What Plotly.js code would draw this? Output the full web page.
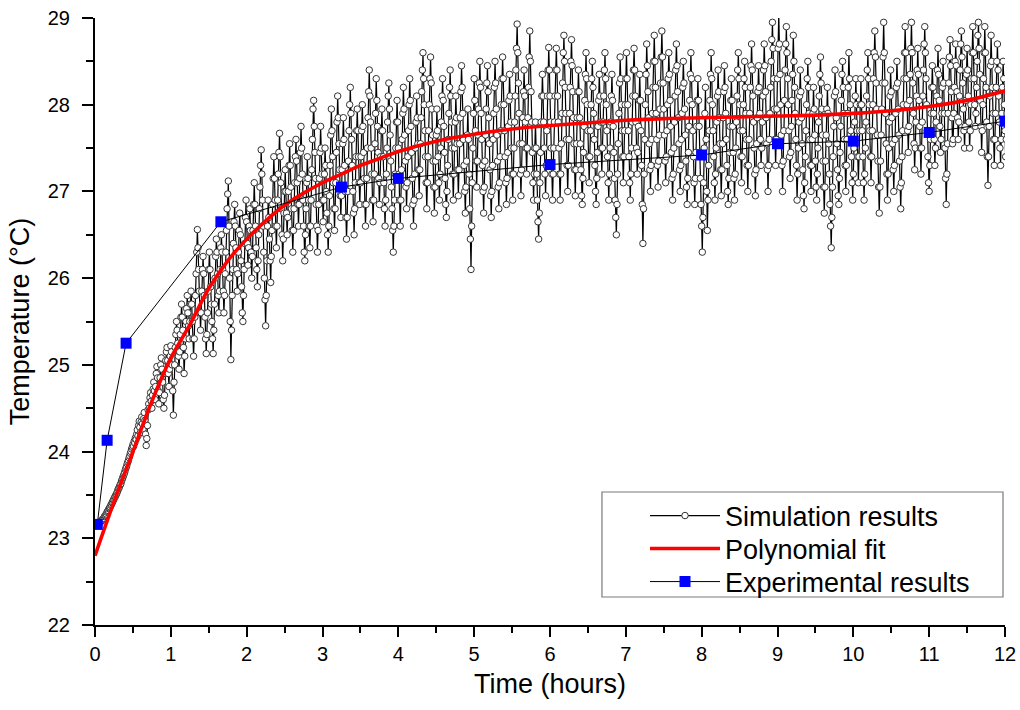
<!DOCTYPE html>
<html>
<head>
<meta charset="utf-8">
<script src="https://cdn.plot.ly/plotly-3.0.1.min.js"></script>
<style>html,body{margin:0;padding:0;background:#fff;}#chart{width:1020px;height:710px;}</style>
</head>
<body>
<div id="chart"></div>
<script>
// Simulation results: one sample every 30 s starting at 0.05 h (four lines of 30 per hour)
var simStart = 0.05;
var simStepHours = 1 / 120;
var simTemp = [
 23.17,23.18,23.18,23.19,23.2,23.21,23.22,23.22,23.23,23.25,23.26,23.27,23.28,23.3,23.31,23.32,23.34,23.35,23.36,23.38,23.39,23.41,23.42,23.44,23.45,23.47,23.48,23.5,23.51,23.53,
 23.55,23.57,23.58,23.6,23.62,23.63,23.66,23.68,23.7,23.72,23.74,23.76,23.79,23.81,23.83,23.86,23.88,23.9,23.93,23.95,23.98,24.0,24.03,24.05,24.08,24.06,24.12,24.1,24.16,24.14,
 24.2,24.25,24.18,24.3,24.35,24.28,24.22,24.34,24.4,24.32,24.26,24.38,24.45,24.36,24.2,24.07,24.15,24.3,24.48,24.55,24.5,24.62,24.68,24.58,24.5,24.65,24.72,24.8,24.7,24.6,
 24.75,24.9,24.98,24.85,24.7,24.55,24.68,24.85,25.0,25.08,24.95,24.8,24.6,24.5,24.65,24.9,25.05,25.15,25.2,25.05,24.9,24.75,24.95,25.1,25.22,25.15,25.0,24.7,24.42,24.8,

 25.0,25.2,25.35,25.5,25.4,25.25,25.1,24.95,25.15,25.35,25.55,25.7,25.55,25.4,25.2,24.9,25.1,25.3,25.5,25.65,25.8,25.6,25.45,25.3,25.5,25.7,25.85,25.7,25.5,25.3,
 25.1,25.3,25.55,25.8,26.05,26.3,26.56,26.35,26.1,25.85,25.6,25.4,25.6,25.85,26.1,26.25,26.05,25.8,25.55,25.3,25.13,25.35,25.6,25.85,26.1,26.3,26.1,25.9,25.7,25.5,
 25.3,25.13,25.4,25.7,26.0,26.25,26.45,26.3,26.05,25.8,25.6,25.85,26.1,26.35,26.5,26.3,26.1,25.85,25.6,25.8,26.05,26.3,26.55,26.8,26.97,27.12,26.6,26.0,25.5,25.06,
 25.4,25.8,26.1,26.4,26.65,26.85,26.6,26.35,26.1,25.85,26.05,26.3,26.55,26.75,26.5,26.2,25.9,25.6,25.5,25.8,26.1,26.4,26.7,26.9,26.65,26.4,26.15,26.35,26.6,26.8,

 26.55,26.3,26.0,26.25,26.55,26.85,27.1,26.85,26.6,26.35,26.1,25.9,26.2,26.5,26.8,27.05,27.3,27.48,27.2,26.9,26.6,26.3,26.0,25.75,25.45,25.8,26.2,26.6,26.9,26.7,
 26.45,26.2,25.95,26.25,26.55,26.85,27.15,27.4,27.15,26.9,26.6,26.35,26.6,26.9,27.2,27.45,27.67,27.4,27.1,26.8,26.5,26.2,26.45,26.75,27.0,27.25,27.0,26.75,26.5,26.7,
 27.0,27.3,27.55,27.3,27.05,26.8,26.55,26.3,26.55,26.8,27.1,27.4,27.6,27.35,27.1,26.85,26.6,26.85,27.15,27.45,27.75,27.5,27.2,26.9,26.6,26.3,26.2,26.5,26.8,27.1,
 27.4,27.15,26.9,26.6,26.35,26.6,26.9,27.25,27.6,27.95,28.05,27.75,27.45,27.15,26.85,26.6,26.3,26.55,26.85,27.15,27.45,27.75,27.5,27.2,26.9,26.65,26.9,27.2,27.5,27.3,

 27.0,26.75,26.5,26.3,26.6,26.95,27.3,27.65,27.95,27.7,27.4,27.1,26.8,26.55,26.8,27.1,27.45,27.8,28.1,27.85,27.55,27.25,26.95,26.7,26.95,27.25,27.55,27.85,27.6,27.3,
 27.0,26.7,26.45,26.7,27.0,27.35,27.7,28.0,28.2,27.9,27.6,27.3,27.0,26.75,26.5,26.8,27.1,27.4,27.7,27.95,27.7,27.4,27.1,26.85,27.1,27.4,27.7,28.0,27.75,27.45,
 27.15,26.85,26.6,26.85,27.15,27.5,27.85,28.15,28.4,28.1,27.8,27.5,27.2,26.9,26.65,26.9,27.2,27.55,27.9,28.3,28.05,27.75,27.45,27.15,26.85,27.1,27.4,27.7,27.95,27.7,
 27.4,27.1,26.8,26.6,26.9,27.2,27.5,27.8,28.1,28.25,27.95,27.65,27.35,27.05,26.8,26.55,26.3,26.6,26.9,27.2,27.5,27.8,28.05,27.8,27.5,27.2,26.9,26.6,26.9,27.25,

 27.6,27.9,28.2,27.95,27.65,27.35,27.05,26.8,27.1,27.4,27.7,28.0,28.3,28.05,27.75,27.45,27.15,26.85,26.6,26.9,27.2,27.5,27.8,28.1,27.85,27.55,27.25,26.95,27.25,27.55,
 27.85,28.15,28.4,28.6,28.3,28.0,27.7,27.4,27.1,26.8,27.1,27.4,27.7,28.0,28.3,28.55,28.25,27.95,27.65,27.35,27.05,26.75,27.05,27.35,27.65,27.95,27.7,27.4,27.1,26.9,
 27.2,27.5,27.8,28.1,28.3,28.05,27.75,27.45,27.15,26.85,26.7,27.0,27.3,27.6,27.9,28.2,28.4,28.1,27.8,27.5,27.2,26.9,27.2,27.5,27.8,28.1,27.85,27.55,27.25,26.95,
 27.25,27.55,27.85,28.15,28.45,28.2,27.9,27.6,27.3,27.0,26.75,27.05,27.35,27.65,27.95,27.6,27.2,26.8,26.45,26.1,26.6,27.1,27.5,27.9,28.3,28.05,27.7,27.35,27.05,27.35,

 27.65,27.95,28.25,28.5,28.2,27.9,27.6,27.3,27.0,26.75,27.05,27.35,27.65,27.95,28.25,28.45,28.15,27.85,27.55,27.25,26.95,26.7,27.0,27.3,27.6,27.9,28.2,28.5,28.25,27.95,
 27.65,27.35,27.05,26.8,27.1,27.4,27.7,28.0,28.3,28.55,28.3,28.0,27.7,27.4,27.1,26.85,27.15,27.45,27.75,28.05,28.35,28.1,27.8,27.5,27.2,26.9,27.2,27.5,27.8,28.1,
 28.4,28.65,28.93,28.6,28.25,27.9,27.55,27.2,26.95,27.25,27.55,27.85,28.15,28.4,28.1,27.8,27.5,27.2,27.5,27.85,28.2,28.55,28.85,28.5,28.15,27.8,27.45,27.1,26.9,27.2,
 27.5,27.8,27.5,27.2,26.9,26.65,26.45,26.75,27.1,27.45,27.8,28.1,28.35,28.1,27.8,27.5,27.2,26.95,27.3,27.7,28.1,28.4,28.66,28.4,28.1,27.8,27.5,27.2,26.9,27.2,

 27.5,27.8,28.1,28.4,28.65,28.4,28.1,27.8,27.5,27.2,26.9,27.2,27.55,27.9,28.25,28.6,28.8,28.5,28.2,27.9,27.6,27.3,27.0,27.3,27.6,27.9,28.2,28.5,28.75,28.45,
 28.15,27.85,27.55,27.25,26.95,27.25,27.55,27.85,28.15,28.4,28.15,27.85,27.55,27.25,26.95,26.85,27.15,27.45,27.75,28.05,28.35,28.6,28.3,28.0,27.7,27.4,27.1,27.4,27.7,28.0,
 28.3,28.5,28.2,27.9,27.6,27.3,27.0,26.85,27.15,27.45,27.75,28.05,28.35,28.1,27.8,27.5,27.2,27.5,27.8,28.1,28.4,28.6,28.3,28.0,27.7,27.4,27.1,26.9,27.2,27.5,
 27.8,28.1,28.35,28.05,27.75,27.45,27.15,26.9,26.7,26.5,26.85,27.2,27.55,27.9,28.25,28.55,28.3,28.0,27.7,27.4,27.1,27.4,27.7,28.0,28.3,28.6,28.3,28.0,27.7,27.4,

 27.1,26.9,27.2,27.5,27.8,28.1,28.4,28.65,28.4,28.1,27.8,27.5,27.2,27.45,27.75,28.05,28.35,28.05,27.7,27.3,26.85,26.4,26.8,27.2,27.6,28.0,28.35,28.7,28.45,28.15,
 27.85,27.55,27.25,27.0,27.3,27.6,27.9,28.2,28.5,28.8,28.5,28.2,27.9,27.6,27.3,27.05,27.35,27.65,27.95,28.25,28.55,28.85,28.55,28.25,27.95,27.65,27.35,27.1,27.4,27.7,
 28.0,28.3,28.6,28.35,28.05,27.75,27.45,27.15,26.9,27.2,27.5,27.8,28.1,28.4,28.7,28.45,28.15,27.85,27.55,27.25,27.0,27.3,27.6,27.9,28.2,28.5,28.25,27.95,27.65,27.35,
 27.05,26.85,27.15,27.45,27.75,28.05,28.35,28.6,28.3,28.0,27.7,27.4,27.1,26.85,27.15,27.45,27.75,28.05,28.3,28.05,27.75,27.45,27.15,26.85,26.6,26.3,26.7,27.1,27.5,27.9,

 28.2,27.6,27.0,26.55,26.9,27.3,27.7,28.05,28.35,28.6,28.3,28.0,27.7,27.4,27.1,26.9,27.2,27.5,27.8,28.1,28.4,28.15,27.85,27.55,27.25,26.95,27.25,27.55,27.85,28.15,
 28.45,28.2,27.9,27.6,27.3,27.0,26.85,27.15,27.45,27.75,28.05,28.3,28.05,27.75,27.45,27.15,26.9,27.2,27.5,27.8,28.1,28.4,28.6,28.3,28.0,27.7,27.4,27.1,27.4,27.7,
 28.0,28.3,28.5,28.2,27.9,27.6,27.3,27.0,27.3,27.6,27.9,28.2,28.45,28.7,28.4,28.1,27.8,27.5,27.2,26.95,27.25,27.55,27.85,28.15,28.45,28.2,27.9,27.6,27.3,27.5,
 27.8,28.1,28.4,28.7,28.45,28.15,27.85,27.55,27.25,27.0,27.3,27.6,27.9,28.2,28.5,28.75,28.95,28.65,28.3,27.95,27.6,27.3,27.6,27.95,28.3,28.65,29.05,28.7,28.35,28.0,

 27.65,27.3,27.0,27.35,27.7,28.05,28.4,28.7,28.9,28.6,28.3,28.0,27.7,27.4,27.15,27.45,27.75,28.05,28.35,28.8,28.5,28.2,27.9,27.6,27.3,26.9,27.2,27.5,27.8,28.1,
 28.4,28.15,27.85,27.55,27.25,26.95,26.8,27.1,27.4,27.7,28.0,28.3,28.5,28.2,27.9,27.6,27.3,27.0,27.3,27.6,27.9,28.2,27.95,27.65,27.35,27.05,26.9,27.2,27.5,27.8,
 28.1,28.35,28.55,28.25,27.95,27.65,27.35,27.05,26.75,27.05,27.35,27.65,27.95,28.2,27.9,27.55,27.2,26.85,26.6,26.35,26.7,27.05,27.4,27.75,28.1,28.4,28.15,27.85,27.55,27.25,
 26.95,26.85,27.15,27.45,27.75,28.05,28.35,28.5,28.2,27.9,27.6,27.3,27.0,27.3,27.6,27.9,28.2,28.6,28.3,28.0,27.7,27.4,27.1,26.9,27.2,27.5,27.8,28.1,28.3,28.0,

 27.7,27.4,27.1,27.4,27.7,28.0,28.3,28.0,27.7,27.4,27.1,26.9,27.2,27.5,27.8,28.1,28.4,28.6,28.3,28.0,27.7,27.4,27.1,27.4,27.7,28.0,28.3,28.6,28.85,28.55,
 28.25,27.95,27.65,27.35,27.05,26.75,27.05,27.35,27.65,27.95,28.25,28.55,28.95,28.6,28.25,27.9,27.55,27.2,26.9,27.2,27.5,27.8,28.1,28.4,28.15,27.85,27.55,27.25,27.0,27.3,
 27.6,27.9,28.2,28.5,28.25,27.95,27.65,27.35,27.05,26.8,27.1,27.4,27.7,28.0,28.3,28.6,28.9,28.6,28.3,28.0,27.7,27.45,27.75,28.05,28.35,28.65,28.95,28.6,28.25,27.9,
 27.55,27.25,27.5,27.8,28.1,28.4,28.65,28.35,28.05,27.75,27.5,27.2,27.5,27.8,28.1,28.4,28.7,28.9,28.6,28.3,28.0,27.7,27.4,27.1,27.0,27.3,27.6,27.9,28.2,28.45,

 28.2,27.9,27.6,27.3,27.5,27.8,28.1,28.4,28.65,28.35,28.05,27.75,27.45,27.6,27.9,28.2,28.5,28.25,27.9,27.5,27.15,26.85,27.2,27.55,27.9,28.25,28.55,28.75,28.45,28.15,
 27.85,27.55,27.6,27.9,28.2,28.5,28.7,28.45,28.15,27.85,27.6,27.8,28.1,28.4,28.7,28.85,28.55,28.25,27.95,27.7,27.5,27.75,28.05,28.35,28.65,28.4,28.1,27.8,27.5,27.7,
 28.0,28.3,28.6,28.9,28.6,28.3,28.0,27.75,27.9,28.2,28.5,28.8,28.95,28.65,28.35,28.05,27.75,27.45,27.7,28.0,28.3,28.6,28.9,28.6,28.2,27.8,27.4,27.07,27.4,27.75,
 28.1,28.45,28.8,28.5,28.2,27.9,27.6,27.3,27.6,27.9,28.2,28.5,28.7,28.4,28.1,27.8,27.5,27.3,27.6,27.9,28.2,28.5,28.3,28.0,27.7,27.4,27.6,27.9,28.2,27.9
];
var simTime = simTemp.map(function(v, i){ return simStart + i * simStepHours; });

// Polynomial fit
var fitTime = [0,0.25,0.5,0.75,1,1.25,1.5,1.75,2,2.25,2.5,2.75,3,3.25,3.5,3.75,4,4.5,5,5.5,6,6.5,7,7.5,8,8.5,9,9.5,10,10.5,11,11.5,12];
var fitTemp = [22.8,23.42,24.0,24.58,25.08,25.46,25.88,26.2,26.45,26.66,26.84,26.98,27.1,27.2,27.3,27.38,27.46,27.58,27.66,27.72,27.76,27.79,27.82,27.84,27.85,27.86,27.87,27.88,27.9,27.93,27.98,28.05,28.16];

// Experimental results
var expTime = [0.03,0.16,0.41,1.66,3.25,4,6,8,9,10,11,12];
var expTemp = [23.16,24.13,25.25,26.65,27.05,27.15,27.31,27.42,27.55,27.58,27.68,27.81];

var xTickVals = [0,1,2,3,4,5,6,7,8,9,10,11,12];
var yTickVals = [22,23,24,25,26,27,28,29];

var font = "Liberation Sans, Arial, sans-serif";
var legendFont = {family: font, size: 27, color: '#000000'};

var traces = [
  {
    x: simTime, y: simTemp, type: 'scatter', mode: 'lines+markers',
    name: 'Simulation results', legend: 'legend',
    line: {color: '#000000', width: 1.2},
    marker: {symbol: 'circle', size: 6.5, color: '#ffffff', line: {color: '#333333', width: 1}}
  },
  {
    x: fitTime, y: fitTemp, type: 'scatter', mode: 'lines',
    name: 'Polynomial fit', legend: 'legend2',
    line: {color: '#ff0000', width: 3.6, shape: 'spline', smoothing: 1}
  },
  {
    x: expTime, y: expTemp, type: 'scatter', mode: 'lines+markers',
    name: 'Experimental results', legend: 'legend3',
    line: {color: '#000000', width: 1},
    marker: {symbol: 'square', size: 11, color: '#0000ff'}
  }
];

function legendAt(yPaper) {
  return {
    x: 0.6044, xanchor: 'left', y: yPaper, yanchor: 'middle',
    borderwidth: 0, bgcolor: 'rgba(0,0,0,0)', font: legendFont, itemwidth: 70
  };
}

var layout = {
  width: 1020, height: 710,
  margin: {l: 95, r: 15, t: 18, b: 85},
  paper_bgcolor: '#ffffff', plot_bgcolor: '#ffffff',
  font: {family: font, color: '#000000', size: 20},
  showlegend: true,
  legend: legendAt(0.1796),
  legend2: legendAt(0.1252),
  legend3: legendAt(0.0708),
  shapes: [
    {type: 'rect', xref: 'paper', yref: 'paper', x0: 0.5571, x1: 0.9978, y0: 0.0461, y1: 0.2191,
     line: {color: '#7a7a7a', width: 1.2}, fillcolor: '#ffffff', layer: 'above'}
  ],
  xaxis: {
    range: [0, 12], tickvals: xTickVals, ticktext: xTickVals.map(String),
    showline: true, linecolor: '#000000', linewidth: 2, mirror: false,
    showgrid: false, zeroline: false,
    ticks: 'outside', ticklen: 10, tickwidth: 2, tickcolor: '#000000',
    tickfont: {family: font, size: 20, color: '#000000'},
    minor: {dtick: 0.5, ticks: 'outside', ticklen: 6, tickwidth: 2, tickcolor: '#000000', showgrid: false},
    title: {text: 'Time (hours)', font: {family: font, size: 27, color: '#000000'}, standoff: 10}
  },
  yaxis: {
    range: [22, 29], tickvals: yTickVals, ticktext: yTickVals.map(String),
    showline: true, linecolor: '#000000', linewidth: 2, mirror: false,
    showgrid: false, zeroline: false,
    ticks: 'outside', ticklen: 11, tickwidth: 2, tickcolor: '#000000',
    ticklabelstandoff: 8,
    tickfont: {family: font, size: 20, color: '#000000'},
    minor: {dtick: 0.5, ticks: 'outside', ticklen: 7, tickwidth: 2, tickcolor: '#000000', showgrid: false},
    title: {text: 'Temperature (°C)', font: {family: font, size: 27, color: '#000000'}, standoff: 10}
  }
};

Plotly.newPlot('chart', traces, layout, {displayModeBar: false, staticPlot: true});
</script>
</body>
</html>
